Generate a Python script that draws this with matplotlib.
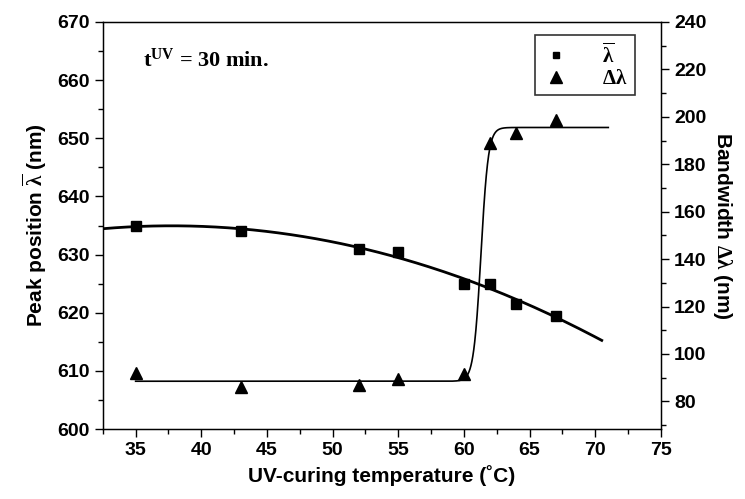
import numpy as np
import matplotlib
matplotlib.use("Agg")
import matplotlib.pyplot as plt
from matplotlib.ticker import MultipleLocator
from matplotlib.lines import Line2D

# ---- data ----
temp = [35, 43, 52, 55, 60, 62, 64, 67]
peak = [635.0, 634.0, 631.0, 630.5, 625.0, 625.0, 621.5, 619.5]
bandwidth = [92.0, 86.0, 87.0, 89.5, 91.5, 189.0, 193.0, 198.5]

# fit parameters (Boltzmann) for the bandwidth curve
bw_low, bw_high, bw_x0, bw_dx = 88.5, 195.5, 61.3, 0.28
peak_fit_range = (32.5, 70.5)
bw_fit_range = (35.0, 71.0)

xticks = [35, 40, 45, 50, 55, 60, 65, 70, 75]
left_ticks = [600, 610, 620, 630, 640, 650, 660, 670]
right_ticks = [80, 100, 120, 140, 160, 180, 200, 220, 240]

tick_font = ['Liberation Sans Narrow', 'Liberation Sans', 'DejaVu Sans']
plt.rcParams['font.family'] = tick_font
plt.rcParams['mathtext.fontset'] = 'custom'
plt.rcParams['mathtext.rm'] = 'Liberation Serif:bold'
plt.rcParams['mathtext.it'] = 'Liberation Serif:bold'
plt.rcParams['mathtext.bf'] = 'Liberation Serif:bold'

fig = plt.figure(figsize=(7.45, 4.99), dpi=100)
ax = fig.add_axes([0.138, 0.140, 0.749, 0.816])
ax2 = ax.twinx()

ax.set_xlim(32.5, 75)
ax.set_ylim(600, 670)
ax2.set_ylim(68.3, 240)

# peak position: points + quadratic fit
ax.plot(temp, peak, 's', color='black', markersize=7, zorder=5)
coef = np.polyfit(temp, peak, 2)
xf = np.linspace(*peak_fit_range, 200)
ax.plot(xf, np.polyval(coef, xf), '-', color='black', lw=2.0)

# bandwidth: points + Boltzmann fit
ax2.plot(temp, bandwidth, '^', color='black', markersize=8, zorder=5)
xb = np.linspace(*bw_fit_range, 2000)
yb = bw_high + (bw_low - bw_high) / (1 + np.exp((xb - bw_x0) / bw_dx))
ax2.plot(xb, yb, '-', color='black', lw=1.2)

# ticks
ax.set_xticks(xticks)
ax.set_yticks(left_ticks)
ax2.set_yticks(right_ticks)
ax.xaxis.set_minor_locator(MultipleLocator(2.5))
ax.yaxis.set_minor_locator(MultipleLocator(5))
ax2.yaxis.set_minor_locator(MultipleLocator(10))
for a in (ax, ax2):
    a.tick_params(which='major', direction='out', length=6, width=1.0,
                  labelsize=14)
    a.tick_params(which='minor', direction='out', length=3.5, width=1.0)
    for lab in a.get_xticklabels() + a.get_yticklabels():
        lab.set_fontweight('bold')
ax.tick_params(axis='x', top=False, which='both')
ax.tick_params(axis='y', right=False, which='both')
for s in ax.spines.values():
    s.set_linewidth(1.0)

ax.set_xlabel('UV-curing temperature (˚C)', fontsize=15, fontweight='bold',
              family=['Liberation Sans', 'DejaVu Sans'], labelpad=4)
ax.set_ylabel(r'Peak position $\overline{\lambda}$ (nm)', fontsize=15,
              fontweight='bold', family=['Liberation Sans', 'DejaVu Sans'],
              labelpad=6)
ax2.set_ylabel(r'Bandwidth $\Delta\lambda$ (nm)', fontsize=15,
               fontweight='bold', family=['Liberation Sans', 'DejaVu Sans'],
               rotation=270, labelpad=20)

ax.text(0.072, 0.907, r'$\mathbf{t}^{\mathbf{UV}}$ = 30 min.',
        transform=ax.transAxes, fontsize=16, fontweight='bold',
        family=['Liberation Serif', 'DejaVu Serif'], va='center')

handles = [Line2D([], [], ls='none', marker='s', color='black', markersize=5),
           Line2D([], [], ls='none', marker='^', color='black', markersize=8)]
leg = ax.legend(handles, [r'$\overline{\lambda}$', r'$\Delta\lambda$'],
                loc='upper right', bbox_to_anchor=(0.954, 0.968),
                borderaxespad=0.0,
                frameon=True, fancybox=False, edgecolor='black',
                fontsize=15, handletextpad=1.6, borderpad=0.35,
                labelspacing=0.1, handlelength=1.3)
leg.get_frame().set_linewidth(1.2)

fig.savefig('out.png', dpi=100)
